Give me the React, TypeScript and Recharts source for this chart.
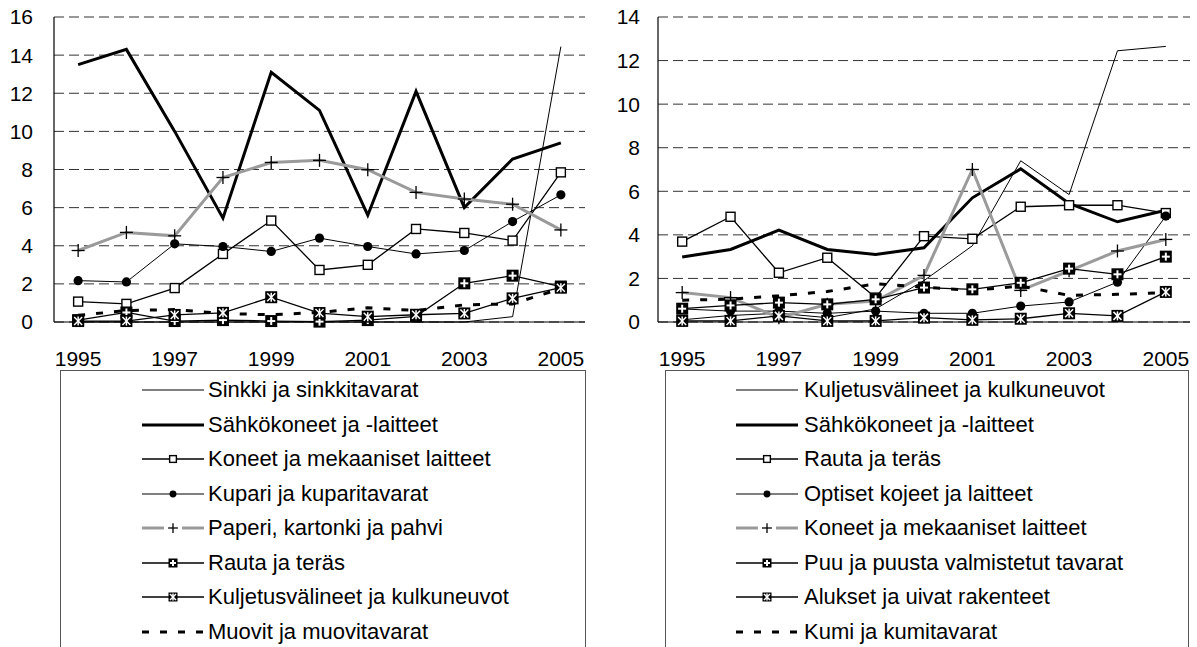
import React from 'react';
import { LineChart, Line, XAxis, YAxis, CartesianGrid } from 'recharts';

// ---------- categories & ticks ----------
const years = ['1995', '1996', '1997', '1998', '1999', '2000', '2001', '2002', '2003', '2004', '2005'];
const yearTickIdx = [0, 2, 4, 6, 8, 10];
const bandEdges = [0.5, 1.5, 2.5, 3.5, 4.5, 5.5, 6.5, 7.5, 8.5, 9.5];
const leftYTicks = [0, 2, 4, 6, 8, 10, 12, 14, 16];
const rightYTicks = [0, 2, 4, 6, 8, 10, 12, 14];

// ---------- left chart series ----------
const sinkki = [0, 0, 0, 0, 0, 0, 0, 0, 0, 0.28, 14.45];
const sahkoL = [13.5, 14.3, 10.0, 5.45, 13.1, 11.1, 5.6, 12.1, 6.0, 8.55, 9.4];
const koneetL = [1.07, 0.95, 1.78, 3.57, 5.32, 2.73, 3.0, 4.88, 4.67, 4.27, 7.85];
const kupari = [2.17, 2.1, 4.1, 3.96, 3.7, 4.4, 3.96, 3.57, 3.75, 5.27, 6.67];
const paperi = [3.75, 4.7, 4.52, 7.58, 8.37, 8.48, 7.99, 6.8, 6.45, 6.18, 4.83];
const rautaL = [0.1, 0.5, 0.05, 0.1, 0.05, 0.02, 0.1, 0.3, 2.03, 2.43, 1.86];
const kuljetusL = [0.05, 0.05, 0.37, 0.48, 1.3, 0.47, 0.28, 0.38, 0.45, 1.24, 1.8];
const muovit = [0.35, 0.6, 0.65, 0.45, 0.38, 0.5, 0.75, 0.6, 0.9, 0.95, 1.75];

// ---------- right chart series ----------
const kuljetusR = [0.1, 0.3, 0.4, 0.2, 0.6, 1.9, 3.5, 7.4, 5.85, 12.45, 12.65];
const sahkoR = [2.98, 3.33, 4.22, 3.33, 3.1, 3.41, 5.7, 7.03, 5.44, 4.6, 5.13];
const rautaR = [3.69, 4.83, 2.26, 2.95, 1.12, 3.94, 3.82, 5.29, 5.36, 5.36, 5.0];
const optiset = [0.6, 0.5, 0.5, 0.4, 0.5, 0.4, 0.4, 0.73, 0.92, 1.83, 4.86];
const koneetR = [1.35, 1.12, 0.2, 0.81, 0.96, 2.14, 7.0, 1.45, 2.35, 3.26, 3.79];
const puu = [0.61, 0.76, 0.89, 0.81, 1.04, 1.58, 1.5, 1.8, 2.45, 2.19, 3.0];
const alukset = [0.05, 0.05, 0.28, 0.05, 0.05, 0.2, 0.1, 0.15, 0.4, 0.28, 1.38];
const kumi = [1.0, 1.05, 1.2, 1.4, 1.75, 1.6, 1.45, 1.65, 1.22, 1.27, 1.35];

const FONT = '"Liberation Sans", Arial, sans-serif';
const GRAY = '#9a9a9a';

type Kind = 'none' | 'openSquare' | 'dot' | 'plus' | 'blackPlus' | 'blackStar';

interface Series {
  key: string;
  name: string;
  values: number[];
  color: string;
  width: number;
  kind: Kind;
  dash?: string;
}

const leftSeries: Series[] = [
  { key: 'a', name: 'Sinkki ja sinkkitavarat', values: sinkki, color: '#000', width: 1, kind: 'none' },
  { key: 'b', name: 'Sähkökoneet ja -laitteet', values: sahkoL, color: '#000', width: 3, kind: 'none' },
  { key: 'c', name: 'Koneet ja mekaaniset laitteet', values: koneetL, color: '#000', width: 1.3, kind: 'openSquare' },
  { key: 'd', name: 'Kupari ja kuparitavarat', values: kupari, color: '#000', width: 1, kind: 'dot' },
  { key: 'e', name: 'Paperi, kartonki ja pahvi', values: paperi, color: GRAY, width: 3, kind: 'plus' },
  { key: 'f', name: 'Rauta ja teräs', values: rautaL, color: '#000', width: 1.3, kind: 'blackPlus' },
  { key: 'g', name: 'Kuljetusvälineet ja kulkuneuvot', values: kuljetusL, color: '#000', width: 1.3, kind: 'blackStar' },
  { key: 'h', name: 'Muovit ja muovitavarat', values: muovit, color: '#000', width: 3, kind: 'none', dash: '7 11' },
];

const rightSeries: Series[] = [
  { key: 'a', name: 'Kuljetusvälineet ja kulkuneuvot', values: kuljetusR, color: '#000', width: 1, kind: 'none' },
  { key: 'b', name: 'Sähkökoneet ja -laitteet', values: sahkoR, color: '#000', width: 3, kind: 'none' },
  { key: 'c', name: 'Rauta ja teräs', values: rautaR, color: '#000', width: 1.3, kind: 'openSquare' },
  { key: 'd', name: 'Optiset kojeet ja laitteet', values: optiset, color: '#000', width: 1, kind: 'dot' },
  { key: 'e', name: 'Koneet ja mekaaniset laitteet', values: koneetR, color: GRAY, width: 3, kind: 'plus' },
  { key: 'f', name: 'Puu ja puusta valmistetut tavarat', values: puu, color: '#000', width: 1.3, kind: 'blackPlus' },
  { key: 'g', name: 'Alukset ja uivat rakenteet', values: alukset, color: '#000', width: 1.3, kind: 'blackStar' },
  { key: 'h', name: 'Kumi ja kumitavarat', values: kumi, color: '#000', width: 3, kind: 'none', dash: '7 11' },
];

function buildRows(series: Series[]) {
  return years.map((y, i) => {
    const row: Record<string, number | string> = { i, year: y };
    series.forEach((s) => {
      row[s.key] = s.values[i];
    });
    return row;
  });
}

function Marker({ kind, cx, cy, big }: { kind: Kind; cx: number; cy: number; big: boolean }) {
  if (cx == null || cy == null || isNaN(cx) || isNaN(cy)) return null;
  const k = big ? 1 : 0.75;
  switch (kind) {
    case 'openSquare': {
      const s = 9 * k;
      return <rect x={cx - s / 2} y={cy - s / 2} width={s} height={s} fill="#fff" stroke="#000" strokeWidth={1.4} />;
    }
    case 'dot':
      return <circle cx={cx} cy={cy} r={4.6 * k} fill="#000" />;
    case 'plus': {
      const a = 6.5 * k;
      return (
        <g stroke="#000" strokeWidth={1.3}>
          <line x1={cx - a} y1={cy} x2={cx + a} y2={cy} />
          <line x1={cx} y1={cy - a} x2={cx} y2={cy + a} />
        </g>
      );
    }
    case 'blackPlus': {
      const s = 12 * k;
      const a = 4 * k;
      return (
        <g>
          <rect x={cx - s / 2} y={cy - s / 2} width={s} height={s} fill="#000" />
          <g stroke="#fff" strokeWidth={2}>
            <line x1={cx - a} y1={cy} x2={cx + a} y2={cy} />
            <line x1={cx} y1={cy - a} x2={cx} y2={cy + a} />
          </g>
        </g>
      );
    }
    case 'blackStar': {
      const s = 12 * k;
      const a = 4 * k;
      return (
        <g>
          <rect x={cx - s / 2} y={cy - s / 2} width={s} height={s} fill="#000" />
          <g stroke="#fff" strokeWidth={1.5}>
            <line x1={cx} y1={cy - a - 0.5} x2={cx} y2={cy + a + 0.5} />
            <line x1={cx - a} y1={cy - a} x2={cx + a} y2={cy + a} />
            <line x1={cx + a} y1={cy - a} x2={cx - a} y2={cy + a} />
          </g>
        </g>
      );
    }
    default:
      return null;
  }
}

function makeDot(kind: Kind) {
  if (kind === 'none') return false;
  return (props: any) => (
    <Marker key={`m-${props.index}`} kind={kind} cx={props.cx} cy={props.cy} big={true} />
  );
}

function Chart({
  series,
  yMax,
  yTicks,
  left,
  width,
  marginLeft,
  marginRight,
  labelGap,
}: {
  series: Series[];
  yMax: number;
  yTicks: number[];
  left: number;
  width: number;
  marginLeft: number;
  marginRight: number;
  labelGap: number;
}) {
  const rows = buildRows(series);
  const tickStyle = { fontSize: 21, fill: '#000', fontFamily: FONT };
  return (
    <div style={{ position: 'absolute', left, top: 0 }}>
      <LineChart
        width={width}
        height={380}
        data={rows}
        margin={{ top: 17, right: marginRight, left: marginLeft, bottom: 8 }}
      >
        <CartesianGrid vertical={false} stroke="#333" strokeDasharray="10 5" />
        <XAxis
          dataKey="i"
          type="number"
          domain={[-0.5, 10.5]}
          ticks={yearTickIdx}
          interval={0}
          tickFormatter={(v: number) => years[v]}
          tickLine={false}
          tickSize={0}
          tickMargin={29}
          height={50}
          axisLine={{ stroke: '#000', strokeWidth: 1.2 }}
          tick={tickStyle}
        />
        <XAxis
          xAxisId="edges"
          type="number"
          domain={[-0.5, 10.5]}
          ticks={bandEdges}
          interval={0}
          mirror
          height={0}
          tick={false}
          tickSize={5}
          tickLine={{ stroke: '#000', strokeWidth: 1 }}
          axisLine={false}
        />
        <XAxis
          xAxisId="top"
          orientation="top"
          type="number"
          domain={[-0.5, 10.5]}
          height={0}
          tick={false}
          tickLine={false}
          axisLine={{ stroke: '#000', strokeWidth: 1.2 }}
        />
        <YAxis
          type="number"
          domain={[0, yMax]}
          ticks={yTicks}
          interval={0}
          width={44}
          tickLine={false}
          tickSize={0}
          tickMargin={labelGap}
          axisLine={{ stroke: '#000', strokeWidth: 1.2 }}
          tick={tickStyle}
        />
        <YAxis
          yAxisId="r"
          orientation="right"
          type="number"
          domain={[0, yMax]}
          width={0}
          tick={false}
          tickLine={false}
          axisLine={{ stroke: '#000', strokeWidth: 1.2 }}
        />
        {series.map((s) => (
          <Line
            key={s.key}
            type="linear"
            dataKey={s.key}
            name={s.name}
            stroke={s.color}
            strokeWidth={s.width}
            strokeDasharray={s.dash}
            dot={makeDot(s.kind)}
            activeDot={false}
            isAnimationActive={false}
          />
        ))}
      </LineChart>
    </div>
  );
}

function LegendBox({
  series,
  left,
  width,
  sampleLeft,
  textLeft,
}: {
  series: Series[];
  left: number;
  width: number;
  sampleLeft: number;
  textLeft: number;
}) {
  return (
    <div
      style={{
        position: 'absolute',
        left,
        top: 370,
        width,
        height: 320,
        border: '1px solid #555',
        boxSizing: 'border-box',
        fontFamily: FONT,
        fontSize: 22,
        color: '#000',
      }}
    >
      {series.map((s, k) => {
        const cy = 19 + k * 34.5;
        return (
          <div key={s.key} style={{ position: 'absolute', top: cy - 13, left: 0, height: 26, width: '100%' }}>
            <svg
              width={62}
              height={26}
              style={{ position: 'absolute', left: sampleLeft, top: 0, overflow: 'visible' }}
            >
              {s.kind === 'plus' ? (
                <g>
                  <line x1={0} y1={13} x2={22} y2={13} stroke={s.color} strokeWidth={s.width} />
                  <line x1={40} y1={13} x2={62} y2={13} stroke={s.color} strokeWidth={s.width} />
                </g>
              ) : (
                <line
                  x1={0}
                  y1={13}
                  x2={62}
                  y2={13}
                  stroke={s.color}
                  strokeWidth={s.width}
                  strokeDasharray={s.dash}
                />
              )}
              <Marker kind={s.kind} cx={31} cy={13} big={false} />
            </svg>
            <div
              style={{
                position: 'absolute',
                left: textLeft,
                top: 0,
                height: 26,
                lineHeight: '26px',
                whiteSpace: 'nowrap',
              }}
            >
              {s.name}
            </div>
          </div>
        );
      })}
    </div>
  );
}

export default function App() {
  return (
    <div
      style={{
        position: 'absolute',
        left: 0,
        top: 0,
        width: 1197,
        height: 647,
        overflow: 'hidden',
        background: '#fff',
      }}
    >
      <Chart
        series={leftSeries}
        yMax={16}
        yTicks={leftYTicks}
        left={0}
        width={600}
        marginLeft={10}
        marginRight={15}
        labelGap={21}
      />
      <Chart
        series={rightSeries}
        yMax={14}
        yTicks={rightYTicks}
        left={600}
        width={597}
        marginLeft={14}
        marginRight={7}
        labelGap={18}
      />
      <LegendBox series={leftSeries} left={60} width={526} sampleLeft={81} textLeft={147} />
      <LegendBox series={rightSeries} left={665} width={524} sampleLeft={70} textLeft={138} />
    </div>
  );
}
